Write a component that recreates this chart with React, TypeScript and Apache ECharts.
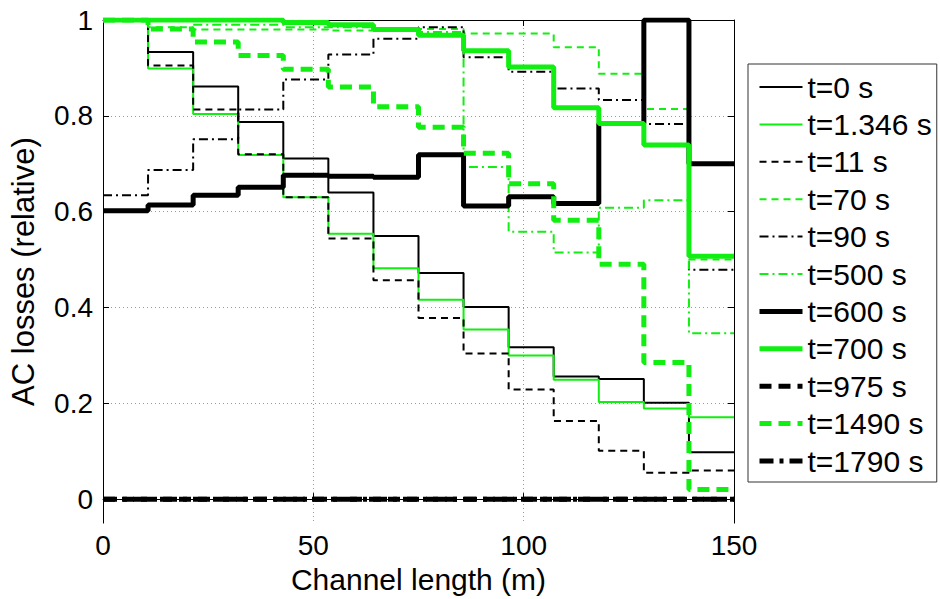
import React, { useEffect, useRef } from "react";
import * as echarts from "echarts";

// Segment edges along the channel (m), 14 equal segments
const edges = [0, 10.71, 21.43, 32.14, 42.86, 53.57, 64.29, 75, 85.71, 96.43, 107.14, 117.86, 128.57, 139.29, 150];
const xTicks = [0, 50, 100, 150];
const yTicks = [0, 0.2, 0.4, 0.6, 0.8, 1];

// Relative AC losses per segment
const t0 = [1, 0.933, 0.861, 0.787, 0.711, 0.64, 0.549, 0.472, 0.401, 0.317, 0.256, 0.251, 0.201, 0.098];
const t1346 = [1, 0.899, 0.804, 0.718, 0.63, 0.554, 0.482, 0.416, 0.354, 0.3, 0.249, 0.203, 0.189, 0.171];
const t11 = [1, 0.905, 0.813, 0.72, 0.63, 0.544, 0.457, 0.378, 0.304, 0.229, 0.163, 0.101, 0.055, 0.06];
const t70 = [1, 0.985, 0.98, 0.98, 0.98, 0.978, 0.978, 0.981, 0.972, 0.972, 0.943, 0.888, 0.814, 0.5];
const t90 = [0.634, 0.687, 0.751, 0.813, 0.876, 0.928, 0.961, 0.985, 0.922, 0.892, 0.857, 0.833, 0.783, 0.479];
const t500 = [1, 1, 0.99, 0.99, 0.985, 0.985, 0.98, 0.975, 0.693, 0.558, 0.515, 0.608, 0.624, 0.346];
const t600 = [0.602, 0.614, 0.634, 0.651, 0.676, 0.674, 0.672, 0.719, 0.612, 0.631, 0.617, 0.784, 1.0, 0.7];
const t700 = [1, 1, 1, 1, 0.995, 0.99, 0.98, 0.968, 0.936, 0.902, 0.817, 0.784, 0.739, 0.507];
const t975 = [0, 0, 0, 0, 0, 0, 0, 0, 0, 0, 0, 0, 0, 0];
const t1490 = [1, 0.981, 0.954, 0.926, 0.897, 0.86, 0.819, 0.776, 0.722, 0.658, 0.582, 0.49, 0.285, 0.02];
const t1790 = [0, 0, 0, 0, 0, 0, 0, 0, 0, 0, 0, 0, 0, 0];

const names = ["t=0 s", "t=1.346 s", "t=11 s", "t=70 s", "t=90 s", "t=500 s", "t=600 s", "t=700 s", "t=975 s", "t=1490 s", "t=1790 s"];
const values = [t0, t1346, t11, t70, t90, t500, t600, t700, t975, t1490, t1790];

const BLACK = "#000000";
const GREEN = "#11ee11";
const FONT = "Liberation Sans";

const styles: { color: string; width: number; type: any }[] = [
  { color: BLACK, width: 2, type: "solid" },
  { color: GREEN, width: 2, type: "solid" },
  { color: BLACK, width: 2, type: [7, 5] },
  { color: GREEN, width: 2, type: [7, 5] },
  { color: BLACK, width: 2, type: [9, 4, 2, 4] },
  { color: GREEN, width: 2, type: [9, 4, 2, 4] },
  { color: BLACK, width: 5, type: "solid" },
  { color: GREEN, width: 5, type: "solid" },
  { color: BLACK, width: 5, type: [12, 7] },
  { color: GREEN, width: 5, type: [12, 7] },
  { color: BLACK, width: 5, type: [14, 6, 4, 6] },
];

export default function App() {
  const ref = useRef<HTMLDivElement>(null);
  useEffect(() => {
    if (!ref.current) return;
    const chart = echarts.init(ref.current, undefined, { renderer: "svg" });
    const series = names.map((name, k) => ({
      name,
      type: "line",
      step: "end",
      symbol: "none",
      xAxisIndex: 0,
      yAxisIndex: 0,
      data: edges.map((x, i) => [x, values[k][Math.min(i, values[k].length - 1)]]),
      lineStyle: { color: styles[k].color, width: styles[k].width, type: styles[k].type },
      itemStyle: { color: styles[k].color },
      emphasis: { disabled: true },
    }));
    const splitLine = { show: true, lineStyle: { color: "#9a9a9a", width: 1, type: [1, 3] } };
    chart.setOption({
      animation: false,
      backgroundColor: "#ffffff",
      grid: { left: 99, right: 206, top: 20, bottom: 72 },
      xAxis: [
        {
          type: "value",
          min: 0,
          max: 150,
          interval: 50,
          position: "bottom",
          name: "Channel length (m)",
          nameLocation: "middle",
          nameGap: 40,
          nameTextStyle: { fontFamily: FONT, fontSize: 30, color: BLACK },
          axisLine: { show: true, lineStyle: { color: BLACK, width: 1 } },
          axisTick: { show: true, inside: true, length: 6, lineStyle: { color: BLACK } },
          axisLabel: { fontFamily: FONT, fontSize: 28, color: BLACK, margin: 8 },
          splitLine,
        },
        {
          type: "value",
          min: 0,
          max: 150,
          interval: 50,
          position: "top",
          axisLine: { show: true, onZero: false, lineStyle: { color: BLACK, width: 1 } },
          axisTick: { show: true, inside: true, length: 6, lineStyle: { color: BLACK } },
          axisLabel: { show: false },
          splitLine: { show: false },
        },
      ],
      yAxis: [
        {
          type: "value",
          min: -0.05,
          max: 1,
          position: "left",
          name: "AC losses (relative)",
          nameLocation: "middle",
          nameGap: 64,
          nameTextStyle: { fontFamily: FONT, fontSize: 31, color: BLACK },
          axisLine: { show: true, onZero: false, lineStyle: { color: BLACK, width: 1 } },
          axisTick: { show: true, inside: true, length: 6, lineStyle: { color: BLACK }, customValues: yTicks },
          axisLabel: { fontFamily: FONT, fontSize: 28, color: BLACK, margin: 10, customValues: yTicks, formatter: (v: number) => String(Math.round(v * 10) / 10) },
          splitLine,
        },
        {
          type: "value",
          min: -0.05,
          max: 1,
          position: "right",
          axisLine: { show: true, onZero: false, lineStyle: { color: BLACK, width: 1 } },
          axisTick: { show: true, inside: true, length: 6, lineStyle: { color: BLACK }, customValues: yTicks },
          axisLabel: { show: false, customValues: yTicks },
          splitLine: { show: false },
        },
      ],
      legend: {
        orient: "vertical",
        left: 748,
        top: 64,
        data: names,
        borderColor: "#333",
        borderWidth: 1,
        padding: [8, 5, 6, 9],
        itemWidth: 43,
        itemHeight: 14,
        itemGap: 7.4,
        selectedMode: false,
        itemStyle: { opacity: 0, borderWidth: 0 },
        lineStyle: { width: "inherit" },
        textStyle: { fontFamily: FONT, fontSize: 30, lineHeight: 30, color: BLACK },
      },
      series,
    });
    return () => chart.dispose();
  }, []);
  return <div ref={ref} style={{ position: "absolute", left: 0, top: 0, width: 940, height: 599 }} />;
}
